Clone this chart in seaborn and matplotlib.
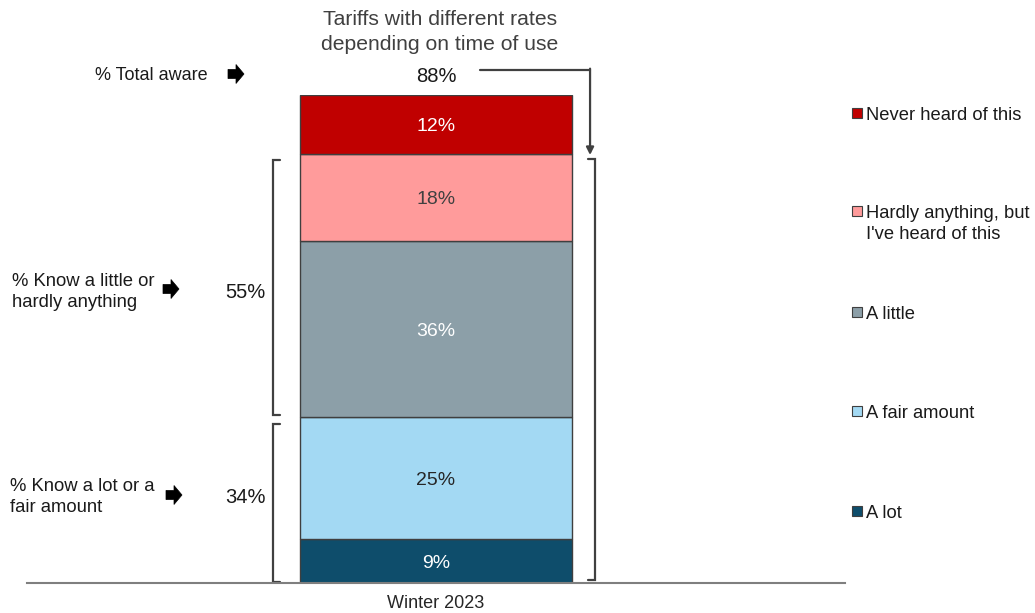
import matplotlib
matplotlib.use("Agg")
import matplotlib.pyplot as plt
from matplotlib.patches import Polygon, Rectangle
import seaborn as sns
import pandas as pd

# --- data -------------------------------------------------------------
period = "Winter 2023"
categories = ["A lot", "A fair amount", "A little",
              "Hardly anything, but\nI've heard of this", "Never heard of this"]
values = [9, 25, 36, 18, 12]
colors = ["#0E4D6B", "#A3D9F3", "#8C9FA8", "#FF9B9B", "#C00000"]
label_colors = ["white", "#262626", "white", "#404040", "white"]
total_aware = 88
know_little = 55
know_lot = 34
title = "Tariffs with different rates\ndepending on time of use"

W, H = 1035, 613
sns.set_theme(style="white")
plt.rcParams["font.family"] = ["Liberation Sans", "DejaVu Sans"]

fig = plt.figure(figsize=(W / 100, H / 100), dpi=100)
ax = fig.add_axes([27 / W, (H - 583) / H, 818 / W, 488 / H])


def fx(px):
    return px / W


def fy(py):
    return (H - py) / H


df = pd.DataFrame({"period": period, "category": categories, "value": values})
df["bottom"] = df["value"].cumsum() - df["value"]

for i, row in df.iterrows():
    sns.barplot(x=[row["period"]], y=[row["value"]], bottom=row["bottom"],
                color=colors[i], saturation=1, width=1.0,
                edgecolor="#3F3F3F", linewidth=1.0, ax=ax)
    ax.text(0, row["bottom"] + row["value"] / 2, f"{row['value']}%",
            ha="center", va="center_baseline", fontsize=14, color=label_colors[i])

ax.set_xlim(-1.5, 1.5)
ax.set_ylim(0, 100)
ax.set_yticks([])
ax.set_ylabel("")
ax.set_xlabel("")
for s in ["top", "left", "right"]:
    ax.spines[s].set_visible(False)
ax.spines["bottom"].set_color("#7F7F7F")
ax.spines["bottom"].set_linewidth(1.5)
ax.tick_params(axis="x", length=0, pad=9, labelsize=13, labelcolor="#262626")

# --- heading and total ---------------------------------------------------
fig.text(fx(440), fy(32), title, ha="center", va="center", fontsize=15.2,
         color="#404040", linespacing=1.4)
ax.text(0, 104.3, f"{total_aware}%", ha="center", va="center_baseline",
        fontsize=14.5, color="#1A1A1A", clip_on=False)

# connector from the total to the aware bracket
line_c = "#404040"
ax.plot([0.161, 0.565], [105.1, 105.1], color=line_c, lw=1.6, clip_on=False)
ax.annotate("", xy=(0.565, 87.7), xytext=(0.565, 105.4),
            arrowprops=dict(arrowstyle="-|>", color=line_c, lw=1.6,
                            mutation_scale=11, shrinkA=0, shrinkB=0),
            annotation_clip=False)

# right bracket: everyone aware
ax.plot([0.557, 0.583, 0.583, 0.557], [86.9, 86.9, 0.6, 0.6],
        color=line_c, lw=1.6, clip_on=False, solid_joinstyle="miter")

# left brackets: knowledge groups
ax.plot([-0.572, -0.598, -0.598, -0.572], [86.7, 86.7, 34.4, 34.4],
        color=line_c, lw=1.6, clip_on=False, solid_joinstyle="miter")
ax.plot([-0.572, -0.598, -0.598, -0.572], [32.6, 32.6, 0.3, 0.3],
        color=line_c, lw=1.6, clip_on=False, solid_joinstyle="miter")

ax.text(-0.70, 60.0, f"{know_little}%", ha="center", va="center_baseline",
        fontsize=14.5, color="#1A1A1A", clip_on=False)
ax.text(-0.70, 18.0, f"{know_lot}%", ha="center", va="center_baseline",
        fontsize=14.5, color="#1A1A1A", clip_on=False)


def block_arrow(x0, yc, w=16, h=19):
    shaft = h * 0.24
    head_x = x0 + w * 0.5
    pts = [(x0, yc - shaft), (head_x, yc - shaft), (head_x, yc - h / 2),
           (x0 + w, yc), (head_x, yc + h / 2), (head_x, yc + shaft),
           (x0, yc + shaft)]
    fig.add_artist(Polygon([(fx(x), fy(y)) for x, y in pts], closed=True,
                           facecolor="black", edgecolor="black", lw=0.5,
                           transform=fig.transFigure))


fig.text(fx(95), fy(74), "% Total aware", ha="left", va="center_baseline",
         fontsize=13, color="#1A1A1A")
block_arrow(228, 74)
fig.text(fx(12), fy(292), "% Know a little or\nhardly anything", ha="left",
         va="center", fontsize=13.3, color="#1A1A1A", linespacing=1.3)
block_arrow(163, 289)
fig.text(fx(10), fy(497), "% Know a lot or a\nfair amount", ha="left",
         va="center", fontsize=13.3, color="#1A1A1A", linespacing=1.3)
block_arrow(166, 495)

# --- legend --------------------------------------------------------------
legend_y = [511, 411, 312, 211, 113]
for cat, col, y in zip(categories, colors, legend_y):
    fig.add_artist(Rectangle((fx(852), fy(y + 5)), 10 / W, 10 / H,
                             facecolor=col, edgecolor="#3F3F3F", lw=0.8,
                             transform=fig.transFigure))
    fig.text(fx(866), fy(y - 6), cat, ha="left", va="top",
             fontsize=13.2, color="#1A1A1A", linespacing=1.3)

fig.savefig("out.png", dpi=100)
